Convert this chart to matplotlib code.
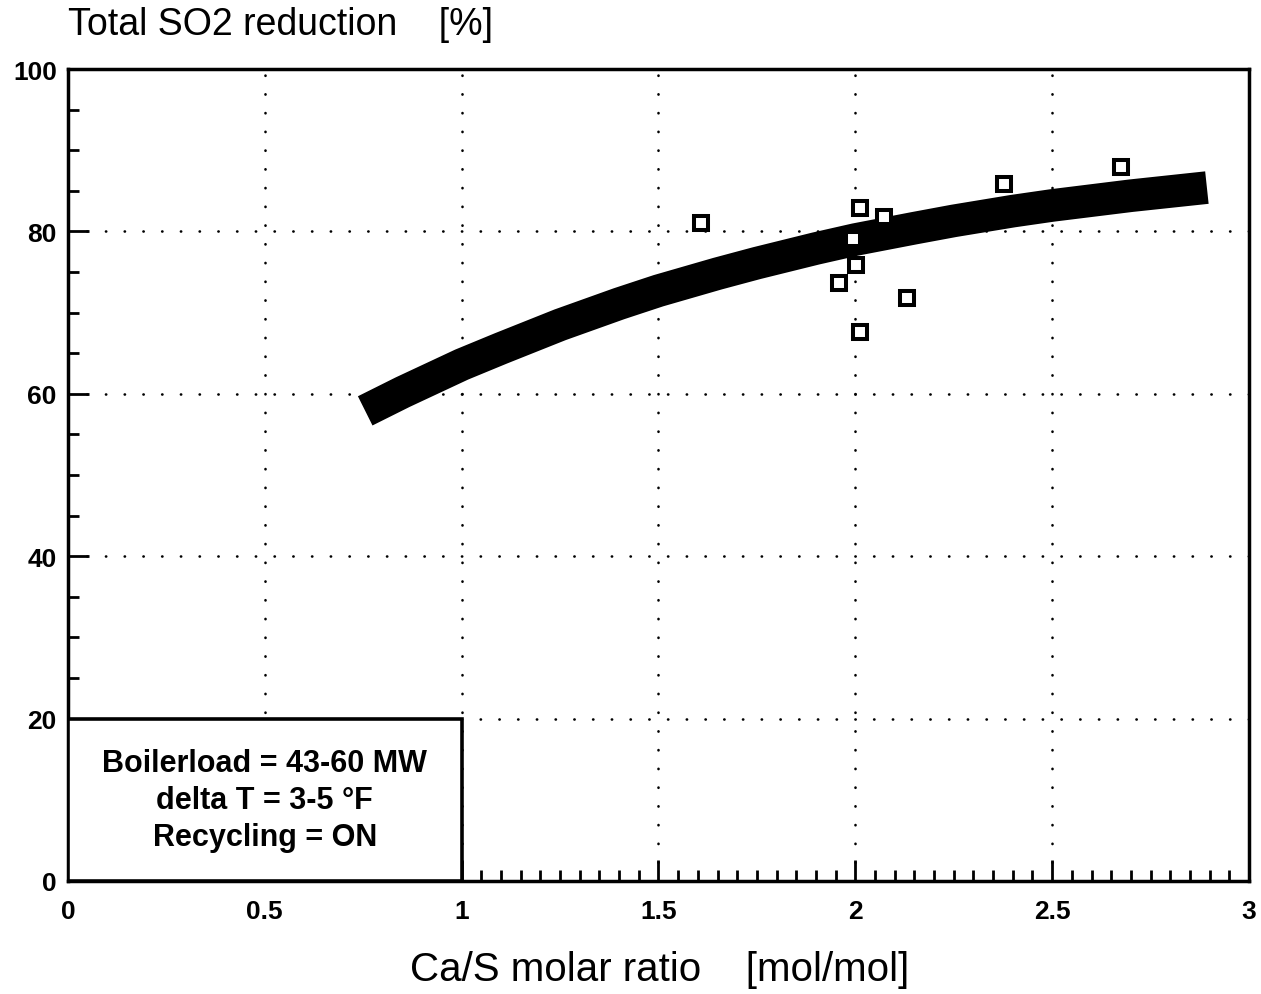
import numpy as np
import matplotlib
matplotlib.use("Agg")
import matplotlib.pyplot as plt
from matplotlib.patches import Rectangle

# ── data ──
ca_s_meas = [1.609, 2.012, 2.073, 1.993, 2.002, 1.959, 2.130, 2.013, 2.377, 2.676]
so2_meas  = [81.0, 82.9, 81.8, 79.1, 75.9, 73.6, 71.8, 67.6, 85.8, 87.9]

ca_s_fit = [0.755, 0.85, 1.0, 1.1, 1.25, 1.4, 1.5, 1.65, 1.75, 1.9,
            2.0, 2.15, 2.25, 2.4, 2.5, 2.7, 2.893]
so2_fit  = [57.9, 60.2, 63.6, 65.6, 68.5, 71.1, 72.7, 74.8, 76.1, 77.9,
            79.0, 80.4, 81.3, 82.5, 83.2, 84.4, 85.4]

x_major = [0, 0.5, 1, 1.5, 2, 2.5, 3]
x_labels = ["0", "0.5", "1", "1.5", "2", "2.5", "3"]
y_major = [0, 20, 40, 60, 80, 100]

box_lines = ["Boilerload = 43-60 MW", "delta T = 3-5 °F", "Recycling = ON"]

plt.rcParams['font.family'] = ['Liberation Sans', 'DejaVu Sans']

fig = plt.figure(figsize=(12.61, 9.95), dpi=100)
ax = fig.add_axes([0.0539, 0.1136, 0.9366, 0.816])
ax.set_xlim(0, 3)
ax.set_ylim(0, 100)

# dotted grid
dot = dict(color="black", lw=1.9, ls=(0, (0.1, 7)), dash_capstyle="round", zorder=1)
for gx in [0.5, 1, 1.5, 2, 2.5]:
    ax.axvline(gx, **dot)
for gy in [20, 40, 60, 80]:
    ax.axhline(gy, **dot)

# thick fitted band
ax.plot(ca_s_fit, so2_fit, color="black", lw=23.5, solid_capstyle="butt",
        solid_joinstyle="round", zorder=3)

# measured points
ax.plot(ca_s_meas, so2_meas, ls="none", marker="s", ms=9.5, mew=2.9,
        mfc="white", mec="black", zorder=4)

# info box in lower left corner
ax.add_patch(Rectangle((0, 0), 1, 20, facecolor="white", edgecolor="black",
                       lw=2.6, zorder=5))
ax.text(0.5, 10.0, "\n".join(box_lines), ha="center", va="center",
        fontsize=22, fontweight="bold", linespacing=1.3, zorder=6)

# ticks
ax.set_xticks(x_major)
ax.set_xticklabels(x_labels)
ax.set_yticks(y_major)
ax.set_xticks(np.arange(1.05, 3.0, 0.05), minor=True)
ax.set_yticks(np.arange(5, 100, 5), minor=True)
ax.tick_params(which="both", direction="in", width=2, top=False, right=False)
ax.tick_params(which="major", length=15, labelsize=19, pad=13)
ax.tick_params(which="minor", length=8)
ax.tick_params(axis="y", which="major", pad=8)
for lab in ax.get_xticklabels() + ax.get_yticklabels():
    lab.set_fontweight("bold")

for sp in ax.spines.values():
    sp.set_linewidth(2.5)

fig.text(0.054, 0.975, "Total SO2 reduction    [%]", fontsize=27,
         ha="left", va="center")
fig.text(0.523, 0.025, "Ca/S molar ratio    [mol/mol]", fontsize=29,
         ha="center", va="center")

fig.savefig("out.png", dpi=100)
